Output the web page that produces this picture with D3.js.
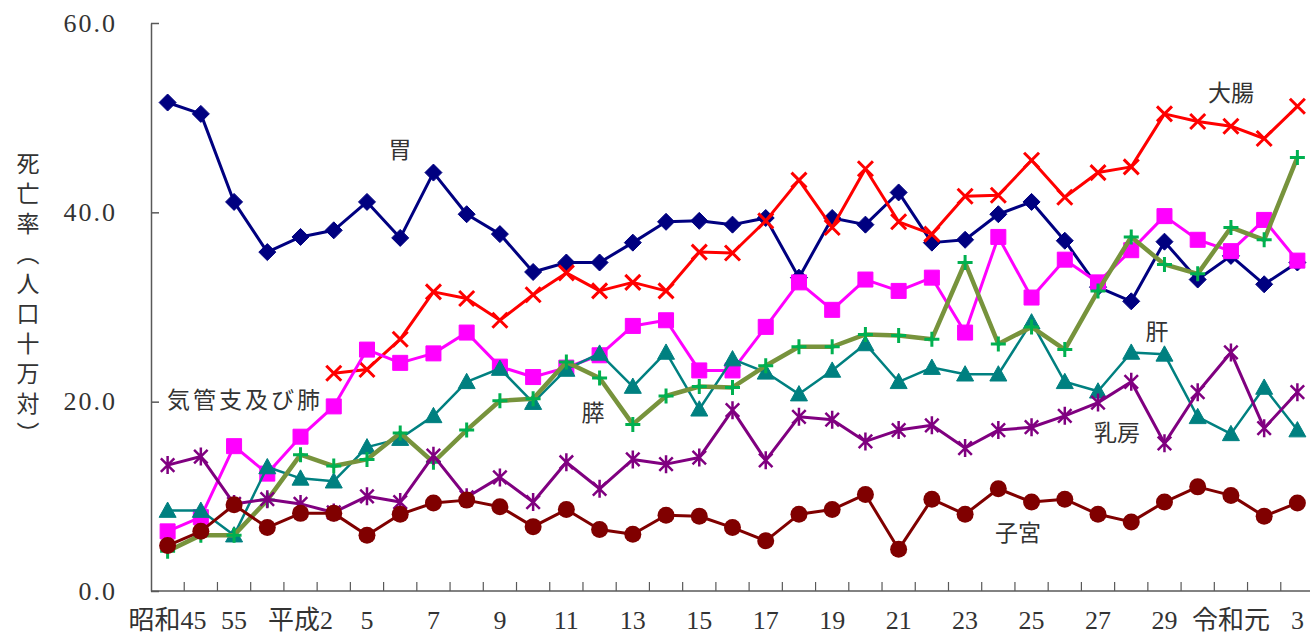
<!DOCTYPE html>
<html>
<head>
<meta charset="utf-8">
<script src="https://cdn.jsdelivr.net/npm/d3@7"></script>
<style>
  body { margin: 0; background: #fff; }
  svg { display: block; }
  text { fill: #333; }
</style>
</head>
<body>
<svg id="chart" width="1310" height="639"></svg>
<script>
// years: 昭和45,50,55,60, 平成2,4,5..30, 令和元,2,3
var years = ['昭和45', '昭和50', '昭和55', '昭和60', '平成2', '平成4'];
for (var h = 5; h <= 30; h++) years.push('平成' + h);
years.push('令和元', '令和2', '令和3');

var tickLabels = ['昭和45', '55', '平成2', '5', '7', '9', '11', '13', '15', '17', '19', '21', '23', '25', '27', '29', '令和元', '3'];
var yTicks = [0, 20, 40, 60];

var stomach = [51.6, 50.4, 41.1, 35.8, 37.4, 38.1, 41.1, 37.3, 44.2, 39.8, 37.7, 33.7, 34.7, 34.7, 36.8, 39.0, 39.1, 38.7,
  39.4, 33.1, 39.4, 38.7, 42.1, 36.8, 37.1, 39.8, 41.1, 37.0, 32.1, 30.6, 36.9, 32.9, 35.4, 32.4, 34.7];
var colon = [null, null, null, null, null, 23.0, 23.4, 26.6, 31.6, 30.9, 28.6, 31.3, 33.6, 31.7, 32.6, 31.7, 35.8, 35.7,
  39.1, 43.4, 38.4, 44.6, 39.0, 37.7, 41.7, 41.8, 45.5, 41.6, 44.2, 44.8, 50.4, 49.6, 49.1, 47.8, 51.2];
var lung = [6.3, 7.8, 15.3, 12.4, 16.3, 19.5, 25.5, 24.1, 25.1, 27.3, 23.7, 22.6, 23.6, 24.9, 28.0, 28.6, 23.3, 23.3,
  27.9, 32.6, 29.7, 32.9, 31.7, 33.1, 27.3, 37.4, 31.0, 35.0, 32.6, 36.0, 39.6, 37.1, 35.9, 39.2, 34.9];
var liver = [8.5, 8.5, 5.9, 13.1, 11.9, 11.6, 15.2, 16.1, 18.5, 22.1, 23.5, 19.9, 23.4, 25.1, 21.6, 25.2, 19.2, 24.5,
  23.1, 20.8, 23.3, 26.1, 22.1, 23.6, 22.9, 22.9, 28.4, 22.1, 21.1, 25.2, 25.0, 18.4, 16.6, 21.5, 17.0];
var pancreas = [4.2, 5.9, 5.9, 9.6, 14.4, 13.2, 13.9, 16.7, 13.6, 17.0, 20.1, 20.3, 24.2, 22.5, 17.6, 20.6, 21.6, 21.5,
  23.8, 25.8, 25.8, 27.1, 27.0, 26.6, 34.7, 26.1, 27.9, 25.5, 31.7, 37.4, 34.5, 33.5, 38.4, 37.1, 45.8];
var breast = [13.3, 14.2, 9.2, 9.7, 9.2, 8.3, 10.0, 9.4, 14.3, 9.9, 12.0, 9.4, 13.6, 10.8, 13.9, 13.4, 14.1, 19.1,
  13.8, 18.4, 18.1, 15.8, 17.0, 17.5, 15.1, 17.0, 17.3, 18.5, 19.9, 22.1, 15.6, 21.0, 25.2, 17.2, 21.0];
var uterus = [4.8, 6.3, 9.1, 6.7, 8.2, 8.2, 5.9, 8.1, 9.3, 9.6, 8.9, 6.8, 8.6, 6.5, 6.0, 8.0, 7.9, 6.7,
  5.3, 8.1, 8.6, 10.2, 4.4, 9.7, 8.1, 10.8, 9.4, 9.7, 8.1, 7.3, 9.4, 11.0, 10.1, 7.9, 9.3];

var svg = d3.select('#chart');
var plotLeft = 151, plotRight = 1314, plotTop = 23, plotBottom = 591;
var serif = '"Liberation Serif", "Noto Sans CJK JP", serif';
var jp = '"Noto Sans CJK JP", sans-serif';

var x = d3.scaleBand().domain(years).range([plotLeft, plotRight]).padding(0);
var y = d3.scaleLinear().domain([0, 60]).range([plotBottom, plotTop]);
var cx = function (i) { return x(years[i]) + x.bandwidth() / 2; };

// y axis
var yAxis = d3.axisLeft(y).tickValues(yTicks).tickSize(-8).tickSizeOuter(0)
  .tickPadding(34).tickFormat(d3.format('.1f'));
var gy = svg.append('g').attr('transform', 'translate(' + plotLeft + ',0)').call(yAxis);
gy.selectAll('path, line').attr('stroke', '#595959').attr('stroke-width', 1.5);
gy.selectAll('text').attr('font-size', 26).attr('letter-spacing', 2)
  .attr('font-family', serif).attr('fill', '#333');

// x axis line, inward ticks between categories
svg.append('line').attr('x1', plotLeft).attr('x2', 1310).attr('y1', plotBottom).attr('y2', plotBottom)
  .attr('stroke', '#595959').attr('stroke-width', 1.5);
svg.append('g').selectAll('line').data(years.slice(1)).enter().append('line')
  .attr('x1', function (d) { return x(d); }).attr('x2', function (d) { return x(d); })
  .attr('y1', plotBottom).attr('y2', plotBottom - 9)
  .attr('stroke', '#595959').attr('stroke-width', 1.2);
svg.append('g').selectAll('text').data(tickLabels).enter().append('text')
  .attr('x', function (d, i) { return cx(i * 2); })
  .attr('y', 629)
  .attr('text-anchor', 'middle')
  .attr('font-family', serif)
  .attr('font-size', 26)
  .text(function (d) { return d; });

// y title
svg.append('text')
  .attr('x', 28).attr('y', 152)
  .attr('writing-mode', 'vertical-rl')
  .attr('font-family', jp)
  .attr('font-size', 23).attr('letter-spacing', 7)
  .style('text-orientation', 'upright')
  .text('死亡率（人口十万対）');

// marker shapes
function diamond(s) { return 'M0,' + (-s) + 'L' + s + ',0L0,' + s + 'L' + (-s) + ',0Z'; }
function square(s) { return 'M' + (-s) + ',' + (-s) + 'H' + s + 'V' + s + 'H' + (-s) + 'Z'; }
function triangle(s) { return 'M0,' + (-s) + 'L' + s + ',' + (s * 0.8) + 'L' + (-s) + ',' + (s * 0.8) + 'Z'; }
function cross(s) { return 'M' + (-s) + ',' + (-s) + 'L' + s + ',' + s + 'M' + s + ',' + (-s) + 'L' + (-s) + ',' + s; }
function plus(s) { return 'M' + (-s) + ',0H' + s + 'M0,' + (-s) + 'V' + s; }
function star(s) { return cross(s * 0.75) + 'M0,' + (-s) + 'V' + s; }

var series = [
  { values: stomach, color: '#000080', width: 3, shape: diamond, size: 8.5, fill: '#000080', mark: '#000080' },
  { values: colon, color: '#FF0000', width: 3, shape: cross, size: 7.5, fill: 'none', mark: '#FF0000', mw: 3 },
  { values: lung, color: '#FF00FF', width: 3, shape: square, size: 7.5, fill: '#FF00FF', mark: '#FF00FF' },
  { values: liver, color: '#008080', width: 2.5, shape: triangle, size: 8.5, fill: '#008080', mark: '#008080' },
  { values: pancreas, color: '#77933C', width: 4.5, shape: plus, size: 7.5, fill: 'none', mark: '#00B050', mw: 3 },
  { values: breast, color: '#800080', width: 3, shape: star, size: 9, fill: 'none', mark: '#800080', mw: 2.5 },
  { values: uterus, color: '#800000', width: 3, shape: null, size: 8.5, fill: '#800000', mark: '#800000' }
];

var line = d3.line()
  .defined(function (d) { return d != null; })
  .x(function (d, i) { return cx(i); })
  .y(function (d) { return y(d); });

series.forEach(function (s) {
  var g = svg.append('g');
  g.append('path').attr('d', line(s.values)).attr('fill', 'none')
    .attr('stroke', s.color).attr('stroke-width', s.width).attr('stroke-linejoin', 'round');
  var pts = s.values.map(function (v, i) { return { v: v, i: i }; }).filter(function (p) { return p.v != null; });
  if (s.shape) {
    g.selectAll('path.m').data(pts).enter().append('path').attr('class', 'm')
      .attr('transform', function (p) { return 'translate(' + cx(p.i) + ',' + y(p.v) + ')'; })
      .attr('d', s.shape(s.size))
      .attr('fill', s.fill)
      .attr('stroke', s.mark)
      .attr('stroke-width', s.mw || 1);
  } else {
    g.selectAll('circle').data(pts).enter().append('circle')
      .attr('cx', function (p) { return cx(p.i); })
      .attr('cy', function (p) { return y(p.v); })
      .attr('r', s.size).attr('fill', s.fill);
  }
});

// series labels
var labels = [
  { t: '胃', x: 400, y: 150 },
  { t: '大腸', x: 1231, y: 93 },
  { t: '気管支及び肺', x: 245, y: 400, ls: 3 },
  { t: '膵', x: 593, y: 413 },
  { t: '肝', x: 1157, y: 332 },
  { t: '乳房', x: 1117, y: 433 },
  { t: '子宮', x: 1018, y: 533 }
];
svg.append('g').selectAll('text').data(labels).enter().append('text')
  .attr('x', function (d) { return d.x; })
  .attr('y', function (d) { return d.y; })
  .attr('dy', '0.35em')
  .attr('text-anchor', 'middle')
  .attr('font-family', jp)
  .attr('font-size', 23)
  .attr('letter-spacing', function (d) { return d.ls || 0; })
  .text(function (d) { return d.t; });
</script>
</body>
</html>
